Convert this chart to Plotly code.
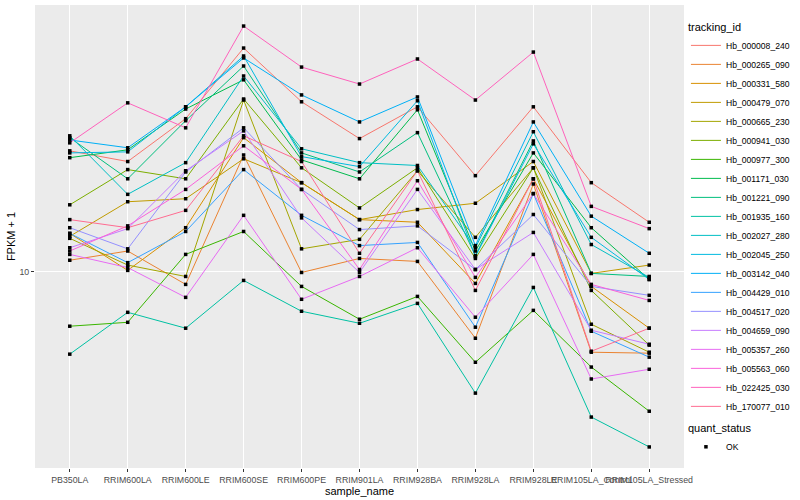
import plotly.graph_objects as go
import math

samples = ["PB350LA", "RRIM600LA", "RRIM600LE", "RRIM600SE", "RRIM600PE", "RRIM901LA",
           "RRIM928BA", "RRIM928LA", "RRIM928LE", "RRIM105LA_Control", "RRIM105LA_Stressed"]

tracking_ids = ["Hb_000008_240", "Hb_000265_090", "Hb_000331_580", "Hb_000479_070", "Hb_000665_230",
                "Hb_000941_030", "Hb_000977_300", "Hb_001171_030", "Hb_001221_090", "Hb_001935_160",
                "Hb_002027_280", "Hb_002045_250", "Hb_003142_040", "Hb_004429_010", "Hb_004517_020",
                "Hb_004659_090", "Hb_005357_260", "Hb_005563_060", "Hb_022425_030", "Hb_170077_010"]

# FPKM + 1 values per gene (same order as samples)
hb_000008_240 = [25.3, 23.3, 32.4, 55.8, 36.9, 27.8, 35.5, 20.9, 35.5, 19.8, 14.6]
hb_000265_090 = [10.9, 11.7, 9.05, 24.5, 9.92, 11.05, 10.8, 5.98, 19.6, 5.37, 5.33]
hb_000331_580 = [13.4, 10.08, 14.0, 28.0, 19.8, 14.9, 14.6, 9.12, 20.4, 8.91, 6.46]
hb_000479_070 = [13.1, 17.1, 17.5, 23.8, 19.8, 14.9, 16.1, 16.9, 23.3, 9.85, 10.5]
hb_000665_230 = [12.9, 10.5, 9.62, 37.4, 11.9, 12.8, 21.7, 13.0, 22.2, 6.66, 5.37]
hb_000941_030 = [16.7, 21.9, 20.4, 37.7, 22.2, 16.3, 22.2, 11.05, 22.2, 8.64, 5.67]
hb_000977_300 = [6.56, 6.76, 11.4, 13.6, 8.91, 6.92, 8.25, 4.97, 7.41, 4.79, 3.41]
hb_001171_030 = [24.0, 25.5, 34.9, 43.7, 23.6, 20.4, 34.7, 11.7, 24.9, 14.0, 9.40]
hb_001221_090 = [28.0, 20.4, 31.9, 48.6, 24.9, 21.5, 29.1, 11.3, 27.3, 9.85, 9.62]
hb_001935_160 = [5.29, 7.30, 6.46, 9.33, 7.36, 6.71, 7.82, 3.92, 8.84, 3.26, 2.59]
hb_002027_280 = [28.4, 18.1, 23.1, 45.0, 25.7, 23.1, 22.6, 12.0, 29.3, 12.3, 9.55]
hb_002045_250 = [24.9, 25.1, 35.5, 52.5, 24.2, 22.4, 37.2, 11.2, 26.7, 13.0, 9.40]
hb_003142_040 = [27.5, 25.9, 35.5, 51.7, 38.9, 31.6, 38.3, 12.2, 31.6, 15.3, 11.5]
hb_004429_010 = [13.4, 10.7, 13.6, 21.9, 15.4, 12.2, 12.5, 6.51, 18.2, 6.31, 5.17]
hb_004517_020 = [14.0, 11.9, 21.5, 30.2, 18.8, 13.8, 14.2, 10.15, 15.5, 8.91, 8.32]
hb_004659_090 = [12.0, 13.9, 21.7, 29.5, 15.1, 9.92, 18.8, 10.15, 13.5, 6.36, 5.71]
hb_005357_260 = [11.4, 10.3, 8.19, 15.4, 8.07, 9.62, 12.0, 7.03, 11.4, 4.37, 4.71]
hb_005563_060 = [11.7, 14.2, 18.8, 26.3, 18.8, 10.15, 20.1, 9.55, 18.2, 9.05, 8.00]
hb_022425_030 = [26.9, 36.6, 30.2, 66.1, 48.2, 42.3, 51.3, 37.4, 54.1, 16.5, 13.9]
hb_170077_010 = [14.9, 14.0, 16.0, 28.4, 23.3, 11.5, 21.7, 8.64, 20.4, 5.41, 6.46]

series_values = [hb_000008_240, hb_000265_090, hb_000331_580, hb_000479_070, hb_000665_230,
                 hb_000941_030, hb_000977_300, hb_001171_030, hb_001221_090, hb_001935_160,
                 hb_002027_280, hb_002045_250, hb_003142_040, hb_004429_010, hb_004517_020,
                 hb_004659_090, hb_005357_260, hb_005563_060, hb_022425_030, hb_170077_010]

colors = ["#F8766D", "#EA8331", "#D89000", "#C09B00", "#A3A500", "#7CAE00", "#39B600", "#00BB4E",
          "#00BF7D", "#00C1A3", "#00BFC4", "#00BAE0", "#00B0F6", "#35A2FF", "#9590FF", "#C77CFF",
          "#E76BF3", "#FA62DB", "#FF62BC", "#FF6C91"]

quant_status = "OK"

FONT = "Liberation Sans"

fig = go.Figure()
for tid, vals, col in zip(tracking_ids, series_values, colors):
    fig.add_trace(go.Scatter(x=samples, y=vals, mode="lines", name=tid,
                             line=dict(color=col, width=1), legend="legend"))

all_x, all_y = [], []
for vals in series_values:
    all_x += samples
    all_y += vals
fig.add_trace(go.Scatter(x=all_x, y=all_y, mode="markers", name=quant_status,
                         marker=dict(color="black", symbol="square", size=3.5),
                         legend="legend2"))

lo = math.log10(min(all_y))
hi = math.log10(max(all_y))
pad = (hi - lo) * 0.05

fig.update_layout(
    width=800, height=500,
    margin=dict(l=35, r=116, t=5, b=32),
    paper_bgcolor="white",
    plot_bgcolor="#EBEBEB",
    font=dict(family=FONT, color="black", size=11),
    xaxis=dict(
        type="category", categoryorder="array", categoryarray=samples,
        range=[-0.6, len(samples) - 0.4],
        showgrid=True, gridcolor="white", gridwidth=1.1,
        ticks="outside", ticklen=3, tickcolor="#333333", tickwidth=1,
        tickfont=dict(family=FONT, size=8.8, color="#4D4D4D"),
        title=dict(text="sample_name", font=dict(family=FONT, size=11, color="black"), standoff=0),
        zeroline=False, showline=False, tickangle=0,
    ),
    yaxis=dict(
        type="log", range=[lo - pad, hi + pad],
        tickvals=[10], ticktext=["10"],
        showgrid=True, gridcolor="white", gridwidth=1.1,
        ticks="outside", ticklen=3, tickcolor="#333333", tickwidth=1,
        tickfont=dict(family=FONT, size=8.8, color="#4D4D4D"),
        title=dict(text="FPKM + 1", font=dict(family=FONT, size=11, color="black"), standoff=1),
        zeroline=False, showline=False, minor=dict(showgrid=False),
    ),
    legend=dict(
        title=dict(text="tracking_id", font=dict(family=FONT, size=11)),
        font=dict(family=FONT, size=8.6), x=1.003, xanchor="left", y=0.975, yanchor="top",
        bgcolor="rgba(0,0,0,0)", traceorder="normal", itemwidth=30,
    ),
    legend2=dict(
        title=dict(text="quant_status", font=dict(family=FONT, size=11)),
        font=dict(family=FONT, size=8.6), x=1.003, xanchor="left", y=0.108, yanchor="top",
        bgcolor="rgba(0,0,0,0)", itemwidth=30,
    ),
    showlegend=True,
)

fig.write_html("out.html", config={"displayModeBar": False},
               post_script="document.body.style.margin='0px';")
